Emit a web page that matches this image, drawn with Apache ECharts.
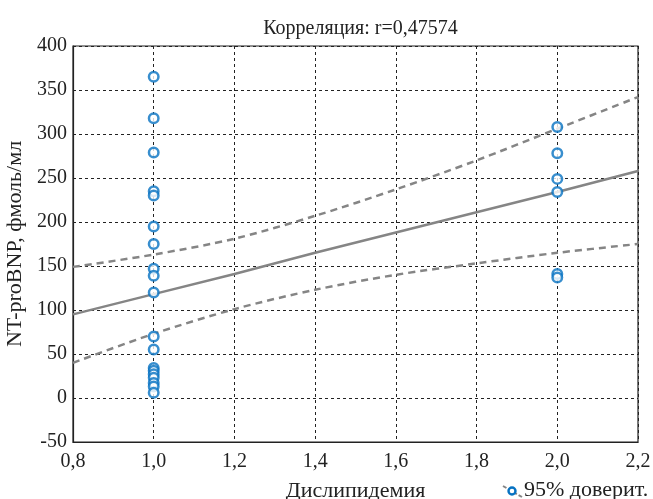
<!DOCTYPE html>
<html>
<head>
<meta charset="utf-8">
<script src="https://cdn.jsdelivr.net/npm/echarts@6/dist/echarts.min.js"></script>
<style>
  html, body { margin: 0; padding: 0; background: #fff; }
  #chart { width: 653px; height: 499px; }
</style>
</head>
<body>
<div id="chart"></div>
<script>
// Observations: dyslipidemia group (1 = no, 2 = yes) vs NT-proBNP
const groupNo = [365, 318, 279, 235, 230, 195, 175, 147, 139, 120, 70, 55, 34, 31, 27, 23, 17, 13, 6];
const groupYes = [308, 278, 249, 234, 141, 137];

// Regression line and 95% confidence band, sampled along x
const fitX = [0.8, 1.0, 1.2, 1.4, 1.6, 1.8, 2.0, 2.2];
const fitY = [95, 118, 141, 165, 188, 211, 234, 258];
const upperBand = [149, 163, 181, 207, 237, 270, 306, 342];
const lowerBand = [40, 73, 101, 123, 140, 153, 165, 175];

const titleText = 'Корреляция: r=0,47574';
const xName = 'Дислипидемия';
const yName = 'NT-proBNP, фмоль/мл';
const legendText = '95% доверит.';

const serif = '"Liberation Serif", "DejaVu Serif", serif';
const blue = '#0672c2';
const gray = '#858585';

const points = groupNo.map(v => [1, v]).concat(groupYes.map(v => [2, v]));
const pair = ys => fitX.map((x, i) => [x, ys[i]]);

const chart = echarts.init(document.getElementById('chart'), null, { renderer: 'canvas' });
chart.setOption({
  animation: false,
  backgroundColor: '#fff',
  title: {
    text: titleText,
    left: 355.5,
    top: 14,
    textAlign: 'center',
    textStyle: { fontFamily: serif, fontSize: 20, fontWeight: 'normal', color: '#222' }
  },
  grid: {
    left: 73, right: 15, top: 46, bottom: 57,
    containLabel: false,
    outerBoundsMode: 'none',
    show: true, borderColor: '#222', borderWidth: 1.2, backgroundColor: 'transparent'
  },
  xAxis: {
    type: 'value',
    min: 0.8, max: 2.2, interval: 0.2,
    name: xName,
    nameLocation: 'middle',
    nameGap: 38,
    nameTextStyle: { fontFamily: serif, fontSize: 22, color: '#222' },
    axisLine: { show: true, onZero: false, lineStyle: { color: '#222', width: 1.2 } },
    axisTick: { show: false },
    axisLabel: {
      fontFamily: serif, fontSize: 20, color: '#222', margin: 10,
      formatter: v => v.toFixed(1).replace('.', ',')
    },
    splitLine: { show: true, lineStyle: { color: '#222', type: [3, 3], width: 1 } }
  },
  yAxis: {
    type: 'value',
    min: -50, max: 400, interval: 50,
    name: yName,
    nameLocation: 'middle',
    nameGap: 43,
    nameTextStyle: { fontFamily: serif, fontSize: 22, color: '#222' },
    axisLine: { show: true, onZero: false, lineStyle: { color: '#222', width: 1.2 } },
    axisTick: { show: false },
    axisLabel: { fontFamily: serif, fontSize: 20, color: '#222', margin: 6 },
    splitLine: { show: true, lineStyle: { color: '#222', type: [3, 3], width: 1 } }
  },
  series: [
    {
      type: 'line', data: pair(fitY), symbol: 'none', smooth: false,
      lineStyle: { color: gray, width: 2.5 }, z: 2
    },
    {
      type: 'line', data: pair(upperBand), symbol: 'none', smooth: 0.3,
      lineStyle: { color: gray, width: 2.5, type: [7, 5] }, z: 2
    },
    {
      type: 'line', data: pair(lowerBand), symbol: 'none', smooth: 0.3,
      lineStyle: { color: gray, width: 2.5, type: [7, 5] }, z: 2
    },
    {
      type: 'scatter', data: points, symbol: 'circle', symbolSize: 9.5,
      itemStyle: { color: '#fff', borderColor: blue, borderWidth: 2.5 }, z: 5
    }
  ],
  graphic: [
    {
      type: 'line', shape: { x1: 503, y1: 486, x2: 522, y2: 497 },
      style: { stroke: gray, lineWidth: 2, lineDash: [4, 2] }
    },
    {
      type: 'circle', shape: { cx: 512, cy: 491, r: 3.5 },
      style: { fill: '#fff', stroke: blue, lineWidth: 2.4 }
    },
    {
      type: 'text', left: 524, top: 479,
      style: { text: legendText, fontFamily: serif, fontSize: 22, fill: '#222' }
    }
  ]
});
</script>
</body>
</html>
